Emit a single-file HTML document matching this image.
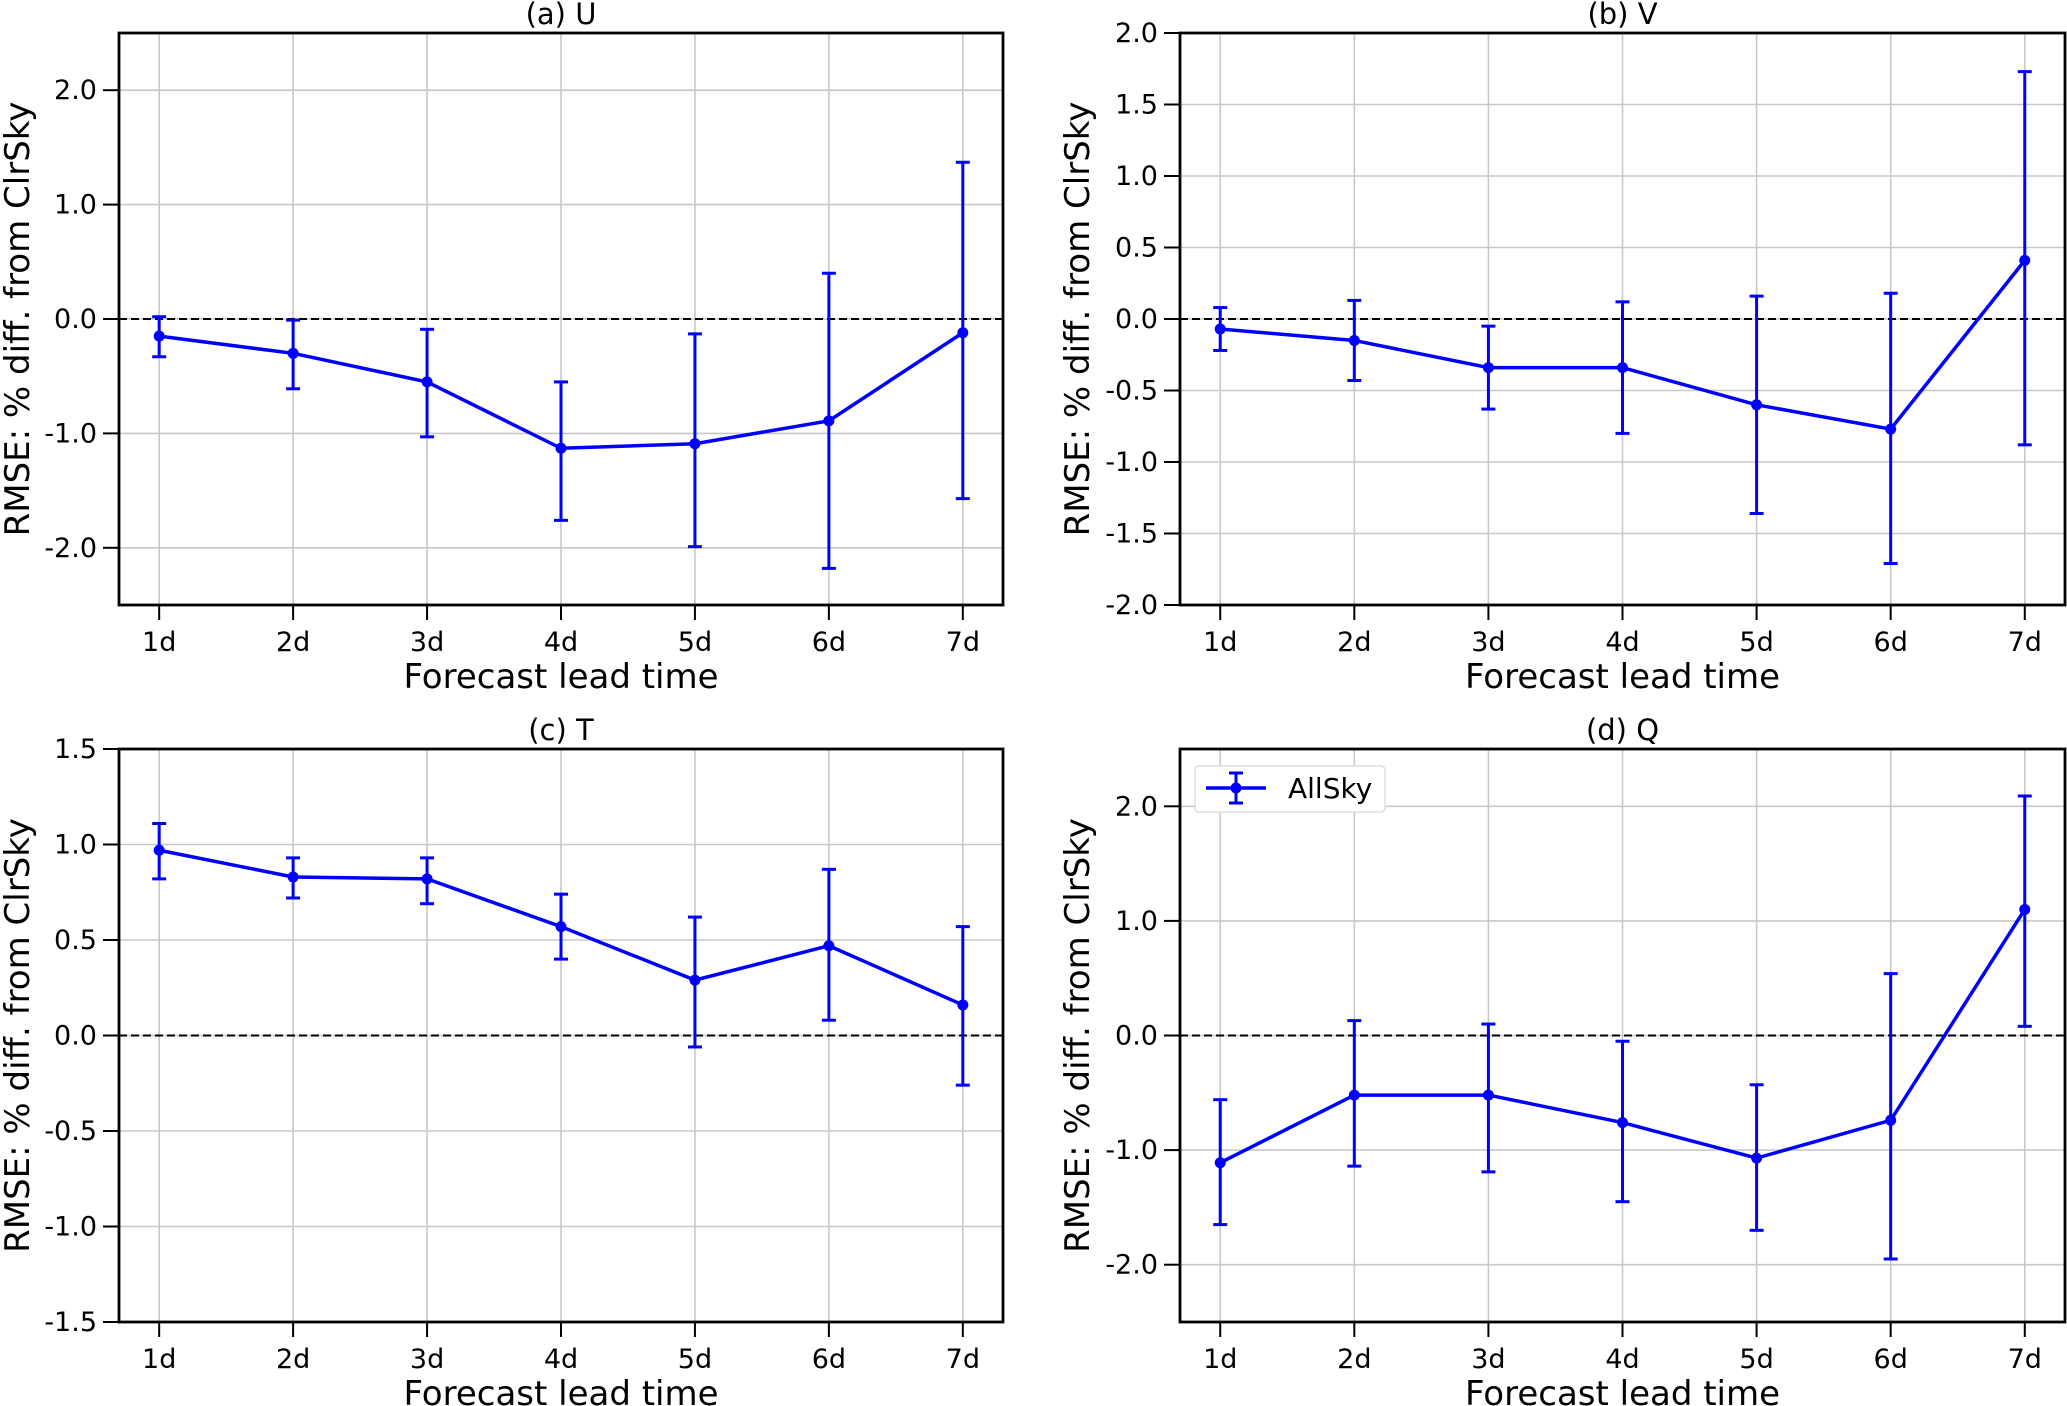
<!DOCTYPE html>
<html><head><meta charset="utf-8"><style>
html,body{margin:0;padding:0;background:#fff}
svg{display:block;font-family:"DejaVu Sans","Liberation Sans",sans-serif}
</style></head><body>
<svg id="fig" width="2067" height="1406" viewBox="0 0 2067 1406" xmlns="http://www.w3.org/2000/svg"></svg>
<script>
const categories = ["1d","2d","3d","4d","5d","6d","7d"];
const uMean = [-0.15,-0.30,-0.55,-1.13,-1.09,-0.89,-0.12];
const uLow  = [-0.33,-0.61,-1.03,-1.76,-1.99,-2.18,-1.57];
const uHigh = [0.02,-0.01,-0.09,-0.55,-0.13,0.40,1.37];
const vMean = [-0.07,-0.15,-0.34,-0.34,-0.60,-0.77,0.41];
const vLow  = [-0.22,-0.43,-0.63,-0.80,-1.36,-1.71,-0.88];
const vHigh = [0.08,0.13,-0.05,0.12,0.16,0.18,1.73];
const tMean = [0.97,0.83,0.82,0.57,0.29,0.47,0.16];
const tLow  = [0.82,0.72,0.69,0.40,-0.06,0.08,-0.26];
const tHigh = [1.11,0.93,0.93,0.74,0.62,0.87,0.57];
const qMean = [-1.11,-0.52,-0.52,-0.76,-1.07,-0.74,1.10];
const qLow  = [-1.65,-1.14,-1.19,-1.45,-1.70,-1.95,0.08];
const qHigh = [-0.56,0.13,0.10,-0.05,-0.43,0.54,2.09];
const uTicks = [-2,-1,0,1,2];
const vTicks = [-2,-1.5,-1,-0.5,0,0.5,1,1.5,2];
const tTicks = [-1.5,-1,-0.5,0,0.5,1,1.5];
const qTicks = [-2,-1,0,1,2];

const NS="http://www.w3.org/2000/svg";
const svg=document.getElementById('fig');
function mk(tag,attrs,parent){const e=document.createElementNS(NS,tag);for(const k in attrs)e.setAttribute(k,attrs[k]);(parent||svg).appendChild(e);return e;}

const panels=[
 {id:'u',title:'(a) U',x0:119,x1:1003,y0:33,y1:605,ymin:-2.5,ymax:2.5,ticks:uTicks,m:uMean,lo:uLow,hi:uHigh,ylx:17},
 {id:'v',title:'(b) V',x0:1180,x1:2065,y0:33,y1:605,ymin:-2,ymax:2,ticks:vTicks,m:vMean,lo:vLow,hi:vHigh,ylx:1077},
 {id:'t',title:'(c) T',x0:119,x1:1003,y0:749,y1:1322,ymin:-1.5,ymax:1.5,ticks:tTicks,m:tMean,lo:tLow,hi:tHigh,ylx:17},
 {id:'q',title:'(d) Q',x0:1180,x1:2065,y0:749,y1:1322,ymin:-2.5,ymax:2.5,ticks:qTicks,m:qMean,lo:qLow,hi:qHigh,ylx:1077,legend:true}
];
panels.forEach(p=>{
  const g=mk('g',{});
  
  
  const n=categories.length;
  const xs=i=>p.x0+(p.x1-p.x0)*(i+0.3)/(n-1+0.6);
  const ys=v=>p.y1-(v-p.ymin)/(p.ymax-p.ymin)*(p.y1-p.y0);
  categories.forEach((c,i)=>{
    const l=mk('line',{x1:xs(i),x2:xs(i),y1:p.y0,y2:p.y1,stroke:'#c8c8c8','stroke-width':1.6},g);
    
    
    const t=mk('line',{x1:xs(i),x2:xs(i),y1:p.y1,y2:p.y1+15,stroke:'#000','stroke-width':2},g);
    
    
    const tx=mk('text',{x:xs(i),y:p.y1+46,'font-size':27,'text-anchor':'middle'},g);
    tx.textContent=c;
    
    
  });
  p.ticks.forEach(v=>{
    const y=ys(v);
    const l=mk('line',{x1:p.x0,x2:p.x1,y1:y,y2:y,stroke:'#c8c8c8','stroke-width':1.6},g);
    
    
    const t=mk('line',{x1:p.x0-16,x2:p.x0,y1:y,y2:y,stroke:'#000','stroke-width':2},g);
    
    
    const tx=mk('text',{x:p.x0-22,y:y+9,'font-size':27,'text-anchor':'end'},g);
    tx.textContent=v.toFixed(1);
    
    
  });
  const zl=mk('line',{x1:p.x0,x2:p.x1,y1:ys(0),y2:ys(0),stroke:'#000','stroke-width':2,'stroke-dasharray':'8,4'},g);
  
  
  categories.forEach((c,i)=>{
    const x=xs(i);
    const e=mk('line',{x1:x,x2:x,y1:ys(p.lo[i]),y2:ys(p.hi[i]),stroke:'#0000ff','stroke-width':3},g);
    
    
    [p.lo[i],p.hi[i]].forEach(v=>{
      const cp=mk('line',{x1:x-7,x2:x+7,y1:ys(v),y2:ys(v),stroke:'#0000ff','stroke-width':3},g);
      
      
    });
  });
  const pts=p.m.map((v,i)=>xs(i)+','+ys(v)).join(' ');
  const pl=mk('polyline',{points:pts,fill:'none',stroke:'#0000ff','stroke-width':3.5},g);
  
  
  p.m.forEach((v,i)=>{
    const c=mk('circle',{cx:xs(i),cy:ys(v),r:5.5,fill:'#0000ff'},g);
    
    
  });
  const fr=mk('rect',{x:p.x0,y:p.y0,width:p.x1-p.x0,height:p.y1-p.y0,fill:'none',stroke:'#000','stroke-width':2.8},g);
  
  
  const ti=mk('text',{x:(p.x0+p.x1)/2,y:p.y0-9,'font-size':29,'text-anchor':'middle'},g);
  ti.textContent=p.title;
  
  
  const xl=mk('text',{x:(p.x0+p.x1)/2,y:p.y1+83,'font-size':34,'text-anchor':'middle'},g);
  xl.textContent='Forecast lead time';
  
  
  const cy=(p.y0+p.y1)/2;
  const yl=mk('text',{x:p.ylx,y:cy,'font-size':34,'text-anchor':'middle',transform:`rotate(-90 ${p.ylx} ${cy}) translate(0 12)`},g);
  yl.textContent='RMSE: % diff. from ClrSky';
  
  
  if(p.legend){
    const lg=mk('g',{},g);
    
    
    mk('rect',{x:1195,y:766,width:190,height:46,rx:4,fill:'#fff',stroke:'#ddd','stroke-width':1.5},lg);
    mk('line',{x1:1206,x2:1266,y1:788,y2:788,stroke:'#0000ff','stroke-width':3.5},lg);
    mk('line',{x1:1236,x2:1236,y1:773,y2:803,stroke:'#0000ff','stroke-width':3},lg);
    mk('line',{x1:1229,x2:1243,y1:773,y2:773,stroke:'#0000ff','stroke-width':3},lg);
    mk('line',{x1:1229,x2:1243,y1:803,y2:803,stroke:'#0000ff','stroke-width':3},lg);
    mk('circle',{cx:1236,cy:788,r:5.5,fill:'#0000ff'},lg);
    const lt=mk('text',{x:1288,y:798,'font-size':28},lg);
    lt.textContent='AllSky';
    
    
  }
});
</script>
</body></html>
